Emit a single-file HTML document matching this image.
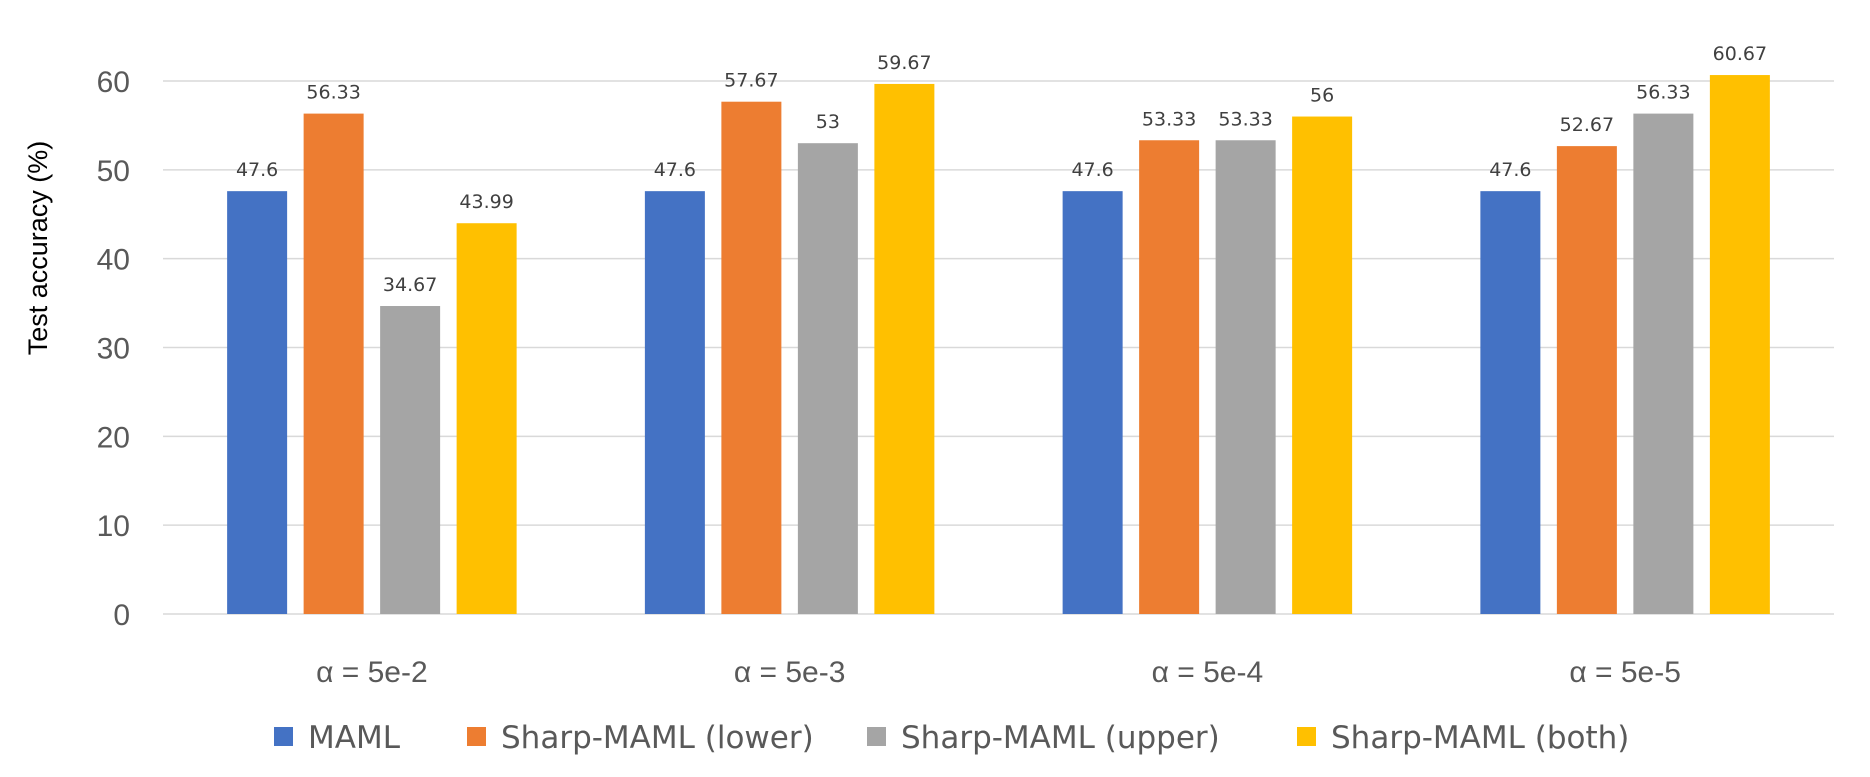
<!DOCTYPE html>
<html><head><meta charset="utf-8"><style>
body{margin:0;background:#fff;}
svg{display:block;font-family:"Liberation Sans","DejaVu Sans",sans-serif;}
</style></head><body>
<svg id="chart" width="1870" height="777" viewBox="0 0 1870 777">
<text transform="translate(47,248) rotate(-90)" text-anchor="middle" font-size="27" fill="#000">Test accuracy (%)</text>
<g id="grid"></g><g id="bars"></g><g id="labels"></g><g id="legend"></g>
</svg>
<script>
const categories=["α = 5e-2","α = 5e-3","α = 5e-4","α = 5e-5"];
const seriesNames=["MAML","Sharp-MAML (lower)","Sharp-MAML (upper)","Sharp-MAML (both)"];
const maml=[47.6,47.6,47.6,47.6];
const lower=[56.33,57.67,53.33,52.67];
const upper=[34.67,53,53.33,56.33];
const both=[43.99,59.67,56,60.67];
const valueLabels=[["47.6","47.6","47.6","47.6"],["56.33","57.67","53.33","52.67"],["34.67","53","53.33","56.33"],["43.99","59.67","56","60.67"]];
const yTicks=[0,10,20,30,40,50,60];
const series=[maml,lower,upper,both];
const colors=["#4472C4","#ED7D31","#A5A5A5","#FFC000"];
const NS="http://www.w3.org/2000/svg";
const X0=163,X1=1834,Y0=614,Y60=81;
const y=v=>Y0-(v/60)*(Y0-Y60);
const catW=(X1-X0)/categories.length;
const barW=60,step=76.5;
const bx=(c,s)=>X0+catW*(c+0.5)-(3*step+barW)/2+s*step;
function mk(tag,attrs,parent){const e=document.createElementNS(NS,tag);for(const k in attrs)e.setAttribute(k,attrs[k]);parent.appendChild(e);return e;}
const grid=document.getElementById('grid'),bars=document.getElementById('bars'),labels=document.getElementById('labels'),legend=document.getElementById('legend');
yTicks.forEach(t=>{
  const l=mk('line',{x1:X0,x2:X1,y1:y(t),y2:y(t),stroke:'#d9d9d9','stroke-width':1.5},grid);
  
  
  const tx=mk('text',{x:130,y:y(t)+11,'text-anchor':'end','font-size':30,fill:'#595959'},grid);
  tx.textContent=t;
  
  
});
categories.forEach((c,ci)=>{
  const tx=mk('text',{x:X0+catW*(ci+0.5),y:682,'text-anchor':'middle','font-size':30,fill:'#595959'},labels);
  tx.textContent=c;
  
  
  series.forEach((s,si)=>{
    const v=s[ci];
    const r=mk('rect',{x:bx(ci,si),y:y(v),width:barW,height:Y0-y(v),fill:colors[si]},bars);
    
    
    const vl=mk('text',{x:bx(ci,si)+barW/2,y:y(v)-15,'text-anchor':'middle','font-size':19,'font-family':'DejaVu Sans, sans-serif',fill:'#404040'},labels);
    vl.textContent=valueLabels[si][ci];
    
    
  });
});
const legX=[274,467,867,1297];
seriesNames.forEach((n,i)=>{
  const r=mk('rect',{x:legX[i],y:727,width:19,height:19,fill:colors[i]},legend);
  
  
  const t=mk('text',{x:legX[i]+34,y:748,'font-size':31,'font-family':'DejaVu Sans, sans-serif',fill:'#595959'},legend);
  t.textContent=n;
  
  
});
</script>
</body></html>
